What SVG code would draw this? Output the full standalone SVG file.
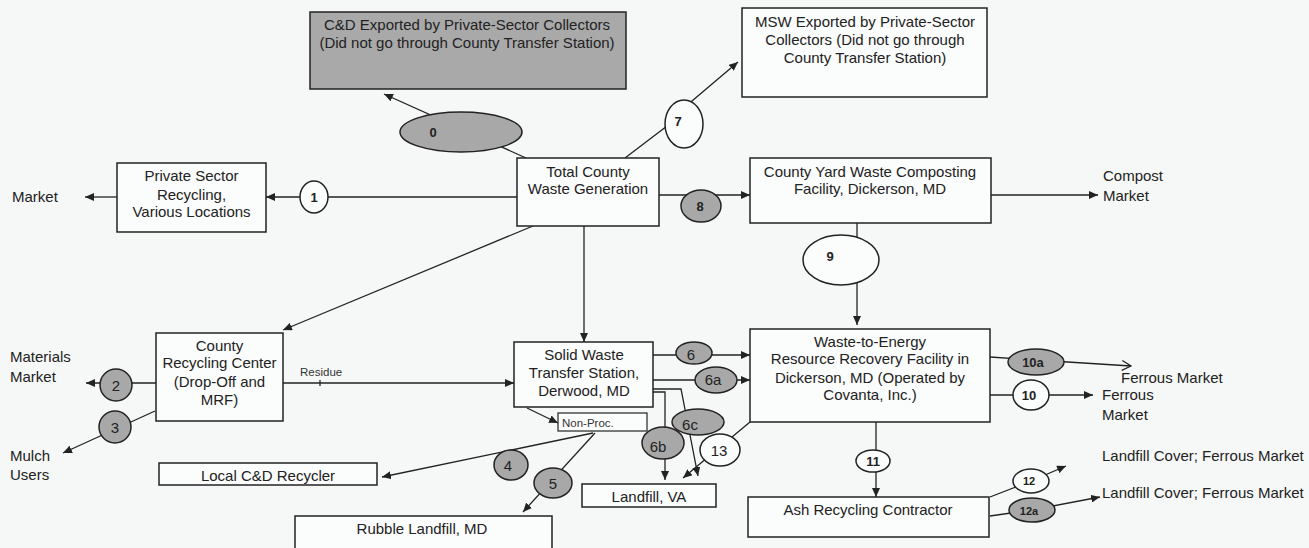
<svg xmlns="http://www.w3.org/2000/svg" width="1309" height="548" viewBox="0 0 1309 548">
<defs>
<marker id="ah" markerUnits="userSpaceOnUse" markerWidth="10" markerHeight="8" refX="9" refY="4" orient="auto"><path d="M0,0 L9,4 L0,8 z" fill="#222"/></marker>
<marker id="oh" markerUnits="userSpaceOnUse" markerWidth="12" markerHeight="12" refX="10" refY="6" orient="auto"><path d="M1,1 L10,6 L1,11" fill="none" stroke="#222" stroke-width="1.3"/></marker>
</defs>
<style>
.bx{fill:#fbfcfc;stroke:#222;stroke-width:1.5}
.gb{fill:#a9a9a9;stroke:#222;stroke-width:1.5}
.ew{fill:#fbfcfc;stroke:#222;stroke-width:1.5}
.eg{fill:#a8a8a8;stroke:#222;stroke-width:1.5}
.t{font-family:"Liberation Sans",Arial,sans-serif;font-size:15px;fill:#222}
.c{text-anchor:middle}
.n{font-family:"Liberation Sans",Arial,sans-serif;font-size:13px;font-weight:bold;fill:#222;text-anchor:middle}
.r{font-family:"Liberation Sans",Arial,sans-serif;font-size:15px;fill:#222;text-anchor:middle}
.s{font-family:"Liberation Sans",Arial,sans-serif;font-size:11.5px;fill:#333}
#conn path{fill:none;stroke:#222;stroke-width:1.3}
</style>
<rect width="1309" height="548" fill="#f6f8f7"/>

<g id="conn">
<path d="M526,158 L384,94" marker-end="url(#ah)"/>
<path d="M517,197 L266,197" marker-end="url(#ah)"/>
<path d="M117,197 L85,197" marker-end="url(#ah)"/>
<path d="M625,158 L667,126 L692,101 L738,62" marker-end="url(#ah)"/>
<path d="M659,195 L750,195" marker-end="url(#ah)"/>
<path d="M991,195 L1098,195" marker-end="url(#ah)"/>
<path d="M857,223 L857,325" marker-end="url(#ah)"/>
<path d="M584,226 L584,342" marker-end="url(#ah)"/>
<path d="M533,226 L283,330" marker-end="url(#ah)"/>
<path d="M283,383 L514,383" marker-end="url(#ah)"/>
<path d="M320,380 L320,386"/>
<path d="M156,383 L86,383" marker-end="url(#ah)"/>
<path d="M155,411 L63,453" marker-end="url(#ah)"/>
<path d="M527,408 L558,423" marker-end="url(#ah)"/>
<path d="M593,433 L382,477" marker-end="url(#ah)"/>
<path d="M595,433 L523,512" marker-end="url(#ah)"/>
<path d="M653,355 L750,355" marker-end="url(#ah)"/>
<path d="M653,380 L750,380" marker-end="url(#ah)"/>
<path d="M653,392 L665,392 L665,480" marker-end="url(#ah)"/>
<path d="M653,389 L681,389 L698,476" marker-end="url(#ah)"/>
<path d="M750,422 L683,478" marker-end="url(#ah)"/>
<path d="M876,422 L876,497" marker-end="url(#ah)"/>
<path d="M990,357 L1036,360 L1131,366" marker-end="url(#oh)"/>
<path d="M990,395 L1093,395" marker-end="url(#ah)"/>
<path d="M990,497 L1031,481 L1066,466" marker-end="url(#ah)"/>
<path d="M990,516 L1032,510 L1100,497" marker-end="url(#ah)"/>
</g>

<g id="cd-exported"><rect class="gb" x="310" y="12" width="316" height="77"/>
<text class="t c" x="467" y="30">C&amp;D Exported by Private-Sector Collectors</text>
<text class="t c" x="467" y="48">(Did not go through County Transfer Station)</text></g>

<g id="msw-exported"><rect class="bx" x="742" y="8" width="245" height="89"/>
<text class="t c" x="865" y="27">MSW Exported by Private-Sector</text>
<text class="t c" x="865" y="45">Collectors (Did not go through</text>
<text class="t c" x="865" y="63">County Transfer Station)</text></g>

<g id="private-sector"><rect class="bx" x="117" y="163" width="149" height="69"/>
<text class="t c" x="191.5" y="181">Private Sector</text>
<text class="t c" x="191.5" y="200">Recycling,</text>
<text class="t c" x="191.5" y="217">Various Locations</text></g>

<g id="total"><rect class="bx" x="517" y="158" width="142" height="68"/>
<text class="t c" x="588" y="177">Total County</text>
<text class="t c" x="588" y="194">Waste Generation</text></g>

<g id="yard"><rect class="bx" x="750" y="158" width="241" height="65"/>
<text class="t c" x="870" y="177">County Yard Waste Composting</text>
<text class="t c" x="870" y="194">Facility, Dickerson, MD</text></g>

<g id="recycling-center"><rect class="bx" x="156" y="333" width="127" height="88"/>
<text class="t c" x="219.5" y="351">County</text>
<text class="t c" x="219.5" y="368">Recycling Center</text>
<text class="t c" x="219.5" y="387">(Drop-Off and</text>
<text class="t c" x="219.5" y="405">MRF)</text></g>

<g id="transfer-station"><rect class="bx" x="514" y="342" width="139" height="65"/>
<text class="t c" x="584" y="360">Solid Waste</text>
<text class="t c" x="584" y="378">Transfer Station,</text>
<text class="t c" x="584" y="396">Derwood, MD</text></g>

<g id="non-proc"><rect class="bx" x="558" y="413" width="89" height="18" style="stroke-width:1.2"/>
<text class="s" x="562" y="426.5">Non-Proc.</text></g>

<g id="wte"><rect class="bx" x="750" y="329" width="240" height="93"/>
<text class="t c" x="870" y="347">Waste-to-Energy</text>
<text class="t c" x="870" y="364">Resource Recovery Facility in</text>
<text class="t c" x="870" y="383">Dickerson, MD (Operated by</text>
<text class="t c" x="870" y="400">Covanta, Inc.)</text></g>

<g id="local-cd"><rect class="bx" x="159" y="463" width="218" height="22"/>
<text class="t c" x="268" y="481">Local C&amp;D Recycler</text></g>

<g id="landfill-va"><rect class="bx" x="582" y="484" width="134" height="23"/>
<text class="t c" x="649" y="502">Landfill, VA</text></g>

<g id="ash"><rect class="bx" x="748" y="497" width="241" height="40"/>
<text class="t c" x="868" y="515">Ash Recycling Contractor</text></g>

<g id="rubble"><rect class="bx" x="295" y="516" width="257" height="40"/>
<text class="t c" x="422" y="534">Rubble Landfill, MD</text></g>

<g id="labels">
<text class="t" x="12" y="202">Market</text>
<text class="t" x="1103" y="181">Compost</text>
<text class="t" x="1103" y="201">Market</text>
<text class="t" x="10" y="362">Materials</text>
<text class="t" x="10" y="382">Market</text>
<text class="t" x="10" y="461">Mulch</text>
<text class="t" x="10" y="480">Users</text>
<text class="s" x="300" y="376">Residue</text>
<text class="t" x="1121" y="383">Ferrous Market</text>
<text class="t" x="1102" y="400">Ferrous</text>
<text class="t" x="1102" y="420">Market</text>
<text class="t" x="1102" y="461">Landfill Cover; Ferrous Market</text>
<text class="t" x="1102" y="498">Landfill Cover; Ferrous Market</text>
</g>

<g id="e0"><ellipse class="eg" cx="461" cy="132" rx="61" ry="20"/><text class="n" x="433" y="137">0</text></g>
<g id="e1"><ellipse class="ew" cx="314" cy="197" rx="14" ry="16"/><text class="n" x="314" y="202">1</text></g>
<g id="e7"><ellipse class="ew" cx="684" cy="124" rx="19" ry="24"/><text class="n" x="678" y="126">7</text></g>
<g id="e8"><ellipse class="eg" cx="701" cy="206" rx="20" ry="16"/><text class="n" x="700" y="211">8</text></g>
<g id="e9"><ellipse class="ew" cx="841" cy="260" rx="38" ry="25"/><text class="n" x="830" y="261">9</text></g>
<g id="e2"><ellipse class="eg" cx="116" cy="385" rx="16" ry="16"/><text class="r" x="116" y="391">2</text></g>
<g id="e3"><ellipse class="eg" cx="115" cy="427" rx="16" ry="16"/><text class="r" x="115" y="433">3</text></g>
<g id="e4"><ellipse class="eg" cx="511" cy="465" rx="17" ry="15"/><text class="r" x="508" y="471">4</text></g>
<g id="e5"><ellipse class="eg" cx="553" cy="483" rx="19" ry="15"/><text class="r" x="553" y="489">5</text></g>
<g id="e6"><ellipse class="eg" cx="694" cy="353" rx="18" ry="11"/><text class="r" x="691" y="360">6</text></g>
<g id="e6a"><ellipse class="eg" cx="716" cy="380" rx="21" ry="13"/><text class="r" x="713" y="385">6a</text></g>
<g id="e6b"><ellipse class="eg" cx="663" cy="443" rx="21" ry="16"/><text class="r" x="658" y="452">6b</text></g>
<g id="e6c"><ellipse class="eg" cx="698" cy="422" rx="26" ry="13"/><text class="r" x="690" y="430">6c</text></g>
<g id="e13"><ellipse class="ew" cx="720" cy="450" rx="20" ry="16"/><text class="r" x="719" y="456">13</text></g>
<g id="e11"><ellipse class="ew" cx="873" cy="461" rx="17" ry="11"/><text class="n" x="873" y="466">11</text></g>
<g id="e10a"><ellipse class="eg" cx="1036" cy="362" rx="28" ry="13"/><text class="n" x="1033" y="367">10a</text></g>
<g id="e10"><ellipse class="ew" cx="1031" cy="395" rx="18" ry="15"/><text class="n" x="1029" y="400">10</text></g>
<g id="e12"><ellipse class="ew" cx="1031" cy="481" rx="18" ry="12"/><text class="n" x="1029" y="485" style="font-size:11px">12</text></g>
<g id="e12a"><ellipse class="eg" cx="1032" cy="510" rx="23" ry="12"/><text class="n" x="1029" y="515" style="font-size:11px">12a</text></g>
</svg>
